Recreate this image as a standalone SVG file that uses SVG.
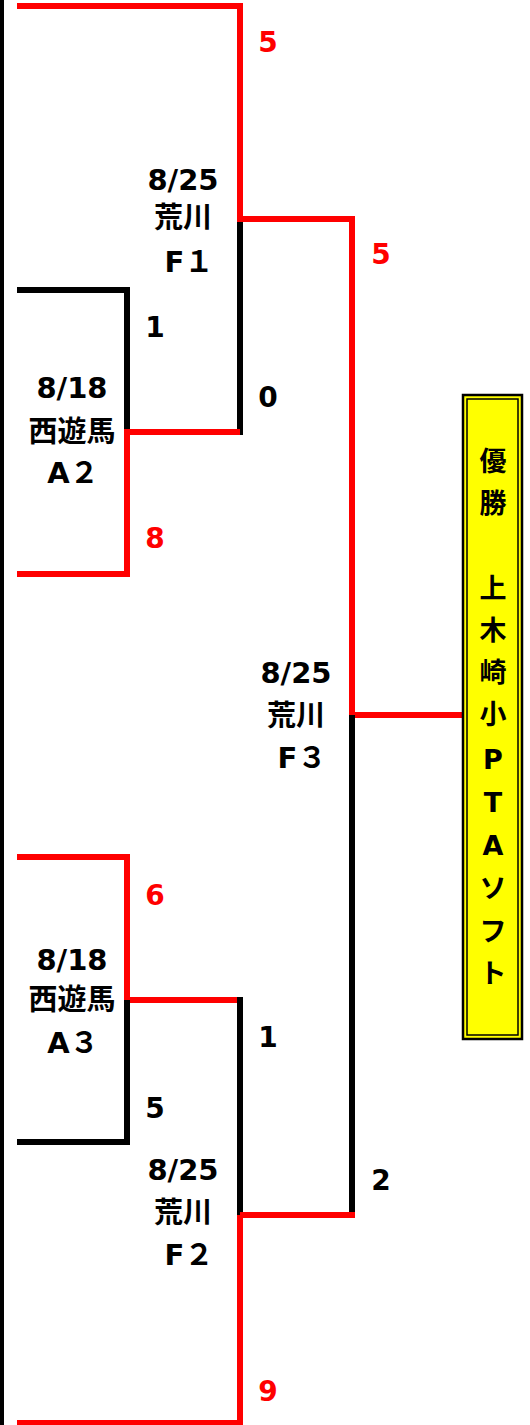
<svg xmlns="http://www.w3.org/2000/svg" width="530" height="1425" viewBox="0 0 530 1425">
<style>
.r{stroke:#ff0000;stroke-width:6;fill:none;stroke-linecap:square}
.k{stroke:#000;stroke-width:6;fill:none;stroke-linecap:square}
text{font-family:"DejaVu Sans","Noto Sans CJK JP",sans-serif;font-weight:bold;text-anchor:middle;dominant-baseline:central}
.lb{font-size:29px;fill:#000}
.sr{font-size:28px;fill:#ff0000}
.sk{font-size:28px;fill:#000}
.w{font-size:27px;fill:#000}
</style>
<rect x="0" y="0" width="4" height="1425" fill="#000"/>
<g id="connectors">
<path class="r" d="M20 6 H240 V216"/>
<path class="k" d="M240 219 V432"/>
<path class="r" d="M240 219 H352 V712"/>
<path class="k" d="M20 290 H127 V429"/>
<path class="r" d="M127 432 H237"/>
<path class="r" d="M127 435 V574 H20"/>
<path class="r" d="M352 715 H460"/>
<path class="k" d="M352 718 V1215"/>
<path class="r" d="M20 857 H127 V1000 H237"/>
<path class="k" d="M127 1003 V1142 H20"/>
<path class="k" d="M240 1000 V1212"/>
<path class="r" d="M243 1215 H352"/>
<path class="r" d="M240 1218 V1423 H20"/>
</g>
<g id="scores">
<text class="sr" x="268" y="42">5</text>
<text class="sr" x="381" y="254">5</text>
<text class="sk" x="155" y="327">1</text>
<text class="sk" x="268" y="397">0</text>
<text class="sr" x="155" y="538">8</text>
<text class="sr" x="155" y="895">6</text>
<text class="sk" x="268" y="1037">1</text>
<text class="sk" x="155" y="1108">5</text>
<text class="sk" x="381" y="1180">2</text>
<text class="sr" x="268" y="1391">9</text>
</g>
<g id="match-F1">
<text class="lb" x="183" y="180">8/25</text>
<text class="lb" x="183" y="218">荒川</text>
<text class="lb" x="189" y="262">F１</text>
</g>
<g id="match-A2">
<text class="lb" x="72" y="388">8/18</text>
<text class="lb" x="72" y="432">西遊馬</text>
<text class="lb" x="73" y="473">A２</text>
</g>
<g id="match-F3">
<text class="lb" x="296" y="673">8/25</text>
<text class="lb" x="296" y="716">荒川</text>
<text class="lb" x="302" y="758">F３</text>
</g>
<g id="match-A3">
<text class="lb" x="72" y="960">8/18</text>
<text class="lb" x="72" y="1000">西遊馬</text>
<text class="lb" x="73" y="1043">A３</text>
</g>
<g id="match-F2">
<text class="lb" x="183" y="1170">8/25</text>
<text class="lb" x="183" y="1213">荒川</text>
<text class="lb" x="189" y="1255">F２</text>
</g>
<g id="winner">
<rect x="463" y="395" width="59" height="644" fill="#ffff00" stroke="#000" stroke-width="2.5"/>
<rect x="467" y="399" width="51" height="636" fill="none" stroke="#000" stroke-width="1.5"/>
<text class="w" x="493" y="461">優</text>
<text class="w" x="493" y="503">勝</text>
<text class="w" x="493" y="588">上</text>
<text class="w" x="493" y="630">木</text>
<text class="w" x="493" y="672">崎</text>
<text class="w" x="493" y="714">小</text>
<text class="w" x="493" y="759">P</text>
<text class="w" x="493" y="802">T</text>
<text class="w" x="493" y="845">A</text>
<text class="w" x="493" y="888">ソ</text>
<text class="w" x="493" y="931">フ</text>
<text class="w" x="493" y="973">ト</text>
</g>
</svg>
